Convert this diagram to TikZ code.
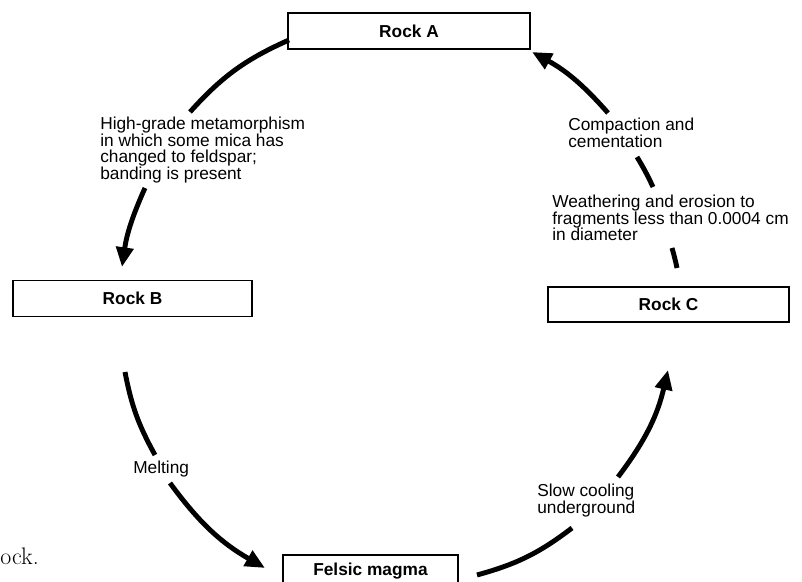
\documentclass[tikz,border=0pt]{standalone}
\usepackage{fontspec}
\setsansfont{Liberation Sans}
\usepackage{tikz}
\usetikzlibrary{arrows.meta}
\tikzset{
    rock box/.style={draw,line width=1.2pt,minimum height=0.9cm,inner sep=0pt,
        font=\sffamily\bfseries\fontsize{12.3}{14}\selectfont},
    process label/.style={align=left,inner sep=0pt,anchor=north west,
        font=\sffamily\fontsize{12.3}{11.8}\selectfont},
    cycle line/.style={line width=3.5pt},
    arr/.style={cycle line,-{Triangle[length=14pt,width=12pt]}},
}

\begin{document}
\begin{tikzpicture}
    \useasboundingbox (0,0) rectangle (20.05,14.55);
    \fill[white] (0,0) rectangle (20.05,14.55);
    \clip (0,0) rectangle (20.05,14.55);

    % rocks
    \node[rock box,minimum width=6.05cm] (rockA) at (10.225,13.775) {Rock A};
    \node[rock box,minimum width=5.975cm] (rockB) at (3.3125,7.0875) {Rock B};
    \node[rock box,minimum width=6.025cm,minimum height=0.875cm] (rockC) at (16.7125,6.9375) {Rock C};
    \node[rock box,minimum width=4.375cm,minimum height=0.8cm] (felsic) at (9.2625,0.275) {Felsic magma};

    % processes
    \node[process label] (metamorph) at (2.5,11.625) {High-grade metamorphism\\in which some mica has\\changed to feldspar;\\banding is present};
    \node[process label] (melting) at (3.325,3.025) {Melting};
    \node[process label] (cooling) at (13.425,2.45) {Slow cooling\\underground};
    \node[process label] (weathering) at (13.8,9.675) {Weathering and erosion to\\fragments less than 0.0004 cm\\in diameter};
    \node[process label] (compaction) at (14.2,11.6) {Compaction and\\cementation};

    \node[anchor=base east,inner sep=0pt,font=\rmfamily\fontsize{17}{20}\selectfont] (pagetext) at (0.975,0.425) {ock.};

    % ends of the arc pieces
    \coordinate (AB1) at (7.225,13.55);
    \coordinate (AB2) at (4.75,11.75);
    \coordinate (AB3) at (3.625,9.85);
    \coordinate (AB4) at (3.05,7.875);
    \coordinate (BF1) at (3.125,5.25);
    \coordinate (BF2) at (3.875,3.175);
    \coordinate (BF3) at (4.25,2.475);
    \coordinate (BF4) at (6.625,0.35);
    \coordinate (FC1) at (11.925,0.175);
    \coordinate (FC2) at (14.3,1.35);
    \coordinate (FC3) at (15.45,2.625);
    \coordinate (FC4) at (16.7,5.3);
    \coordinate (CA1) at (16.925,7.85);
    \coordinate (CA2) at (16.8,8.35);
    \coordinate (CA3) at (16.325,9.875);
    \coordinate (CA4) at (15.925,10.625);
    \coordinate (CA5) at (15.2,11.725);
    \coordinate (CA6) at (13.3,13.25);

    \draw[cycle line] (AB1) to[bend right=12] (AB2);
    \draw[arr] (AB3) to[bend right=8] (AB4);

    \draw[cycle line] (BF1) to[bend right=9] (BF2);
    \draw[arr] (BF3) to[bend right=12] (BF4);

    \draw[cycle line] (FC1) to[bend right=11] (FC2);
    \draw[arr] (FC3) to[bend right=12] (FC4);

    \draw[cycle line] (CA1) to[bend right=2] (CA2);
    \draw[cycle line] (CA3) to[bend right=3] (CA4);
    \draw[arr] (CA5) to[bend right=10] (CA6);
\end{tikzpicture}
\end{document}
